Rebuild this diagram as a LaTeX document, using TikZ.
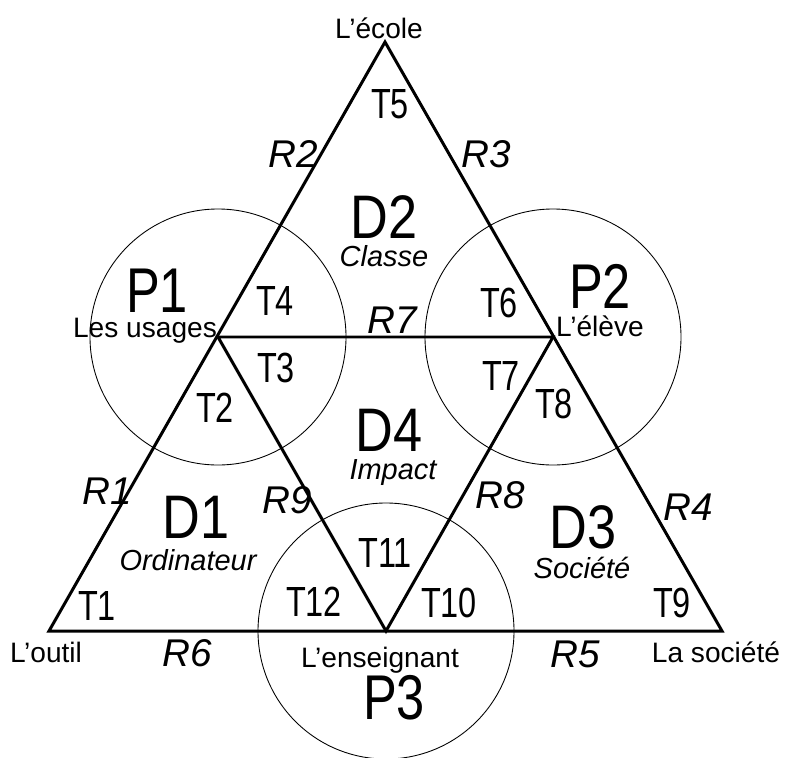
\documentclass[tikz,border=0pt]{standalone}
\usepackage{fontspec}
\setmainfont{Liberation Sans}
\newfontfamily\narrowfont[FakeStretch=0.77]{Liberation Sans}
\newfontfamily\dfont[FakeStretch=0.85]{Liberation Sans}
\newfontfamily\pfont[FakeStretch=0.8]{Liberation Sans}

\begin{document}
\begin{tikzpicture}[x=0.02cm, y=-0.02cm,
	side/.style={line width=1.7pt, line join=miter},
	ring/.style={line width=0.5pt},
	tnode/.style={anchor=base, inner sep=0pt, font=\narrowfont\fontsize{24}{24}\selectfont},
	dnode/.style={anchor=base, inner sep=0pt, font=\dfont\fontsize{35}{35}\selectfont},
	pnode/.style={anchor=base, inner sep=0pt, font=\pfont\fontsize{36}{36}\selectfont},
	rnode/.style={anchor=base, inner sep=0pt, font=\itshape\fontsize{22}{22}\selectfont},
	snode/.style={anchor=base, inner sep=0pt, font=\itshape\fontsize{16.5}{16.5}\selectfont},
	lnode/.style={anchor=base, inner sep=0pt, font=\fontsize{16}{16}\selectfont}]
	\useasboundingbox (0,0) rectangle (786,757);

	% vertices
	\coordinate (ecole) at (385,42);
	\coordinate (outil) at (49,631);
	\coordinate (societe) at (722,631);
	\coordinate (usages) at (218,337);
	\coordinate (eleve) at (553,337);
	\coordinate (enseignant) at (386,631);

	\draw[side] (outil) -- (ecole) -- (societe) -- cycle;
	\draw[side] (usages) -- (eleve) -- (enseignant) -- cycle;
	\draw[ring] (usages) circle[radius=128];
	\draw[ring] (eleve) circle[radius=128];
	\draw[ring] (enseignant) circle[radius=128];

	% places
	\node[lnode] (lecole) at (379,39) {L’école};
	\node[lnode] (lusages) at (145,337) {Les usages};
	\node[lnode] (leleve) at (600,336) {L’élève};
	\node[lnode] (loutil) at (46,662) {L’outil};
	\node[lnode] (lenseignant) at (380,667) {L’enseignant};
	\node[lnode] (lsociete) at (716,662) {La société};

	% poles
	\node[pnode] (p1) at (157,312) {P1};
	\node[pnode] (p2) at (600,308) {P2};
	\node[pnode] (p3) at (394,719) {P3};

	% domains
	\node[dnode] (d1) at (196,538) {D1};
	\node[dnode] (d2) at (384,238) {D2};
	\node[dnode] (d3) at (583,548) {D3};
	\node[dnode] (d4) at (389,451) {D4};
	\node[snode] (s1) at (188,570) {Ordinateur};
	\node[snode] (s2) at (384,266) {Classe};
	\node[snode] (s3) at (582,578) {Société};
	\node[snode] (s4) at (393,479) {Impact};

	% relations
	\node[rnode] (r1) at (107,504) {R1};
	\node[rnode] (r2) at (293,167) {R2};
	\node[rnode] (r3) at (486,167) {R3};
	\node[rnode] (r4) at (688,520) {R4};
	\node[rnode] (r5) at (575,667) {R5};
	\node[rnode] (r6) at (187,666) {R6};
	\node[rnode] (r7) at (392,333) {R7};
	\node[rnode] (r8) at (500,508) {R8};
	\node[rnode] (r9) at (287,513) {R9};

	% tensions
	\node[tnode] (t1) at (97,620) {T1};
	\node[tnode] (t2) at (215,422) {T2};
	\node[tnode] (t3) at (276,382) {T3};
	\node[tnode] (t4) at (275,315) {T4};
	\node[tnode] (t5) at (390,118) {T5};
	\node[tnode] (t6) at (499,317) {T6};
	\node[tnode] (t7) at (501,390) {T7};
	\node[tnode] (t8) at (554,418) {T8};
	\node[tnode] (t9) at (672,617) {T9};
	\node[tnode] (t10) at (449,617) {T10};
	\node[tnode] (t11) at (385,567) {T11};
	\node[tnode] (t12) at (314,616) {T12};
\end{tikzpicture}
\end{document}
